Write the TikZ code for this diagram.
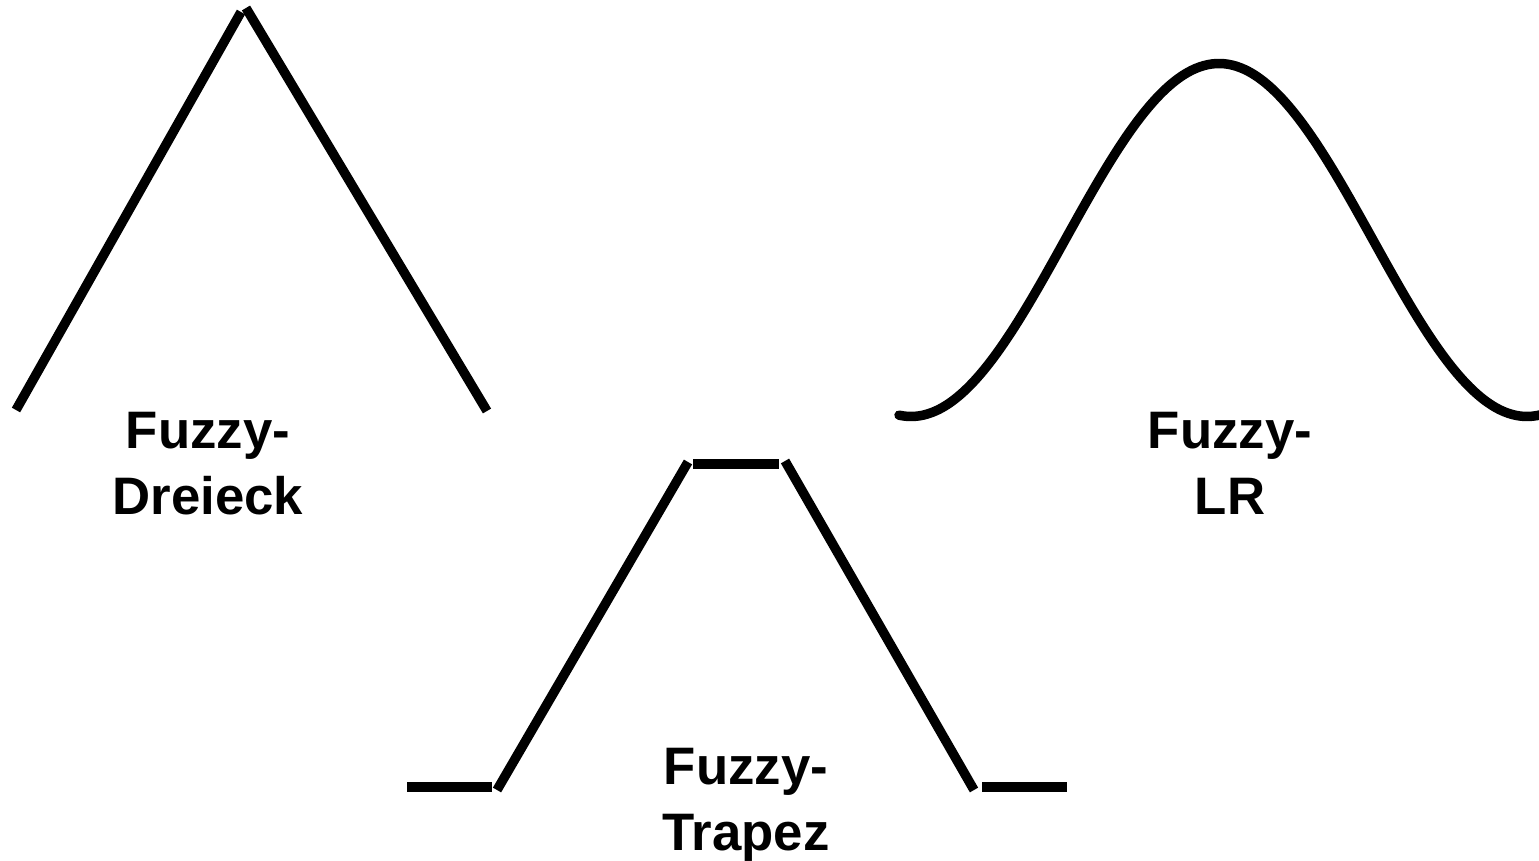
\documentclass[tikz,border=0pt]{standalone}
\usepackage{fontspec}
\setmainfont{Liberation Sans}
\tikzset{
  kurve/.style={line width=2.7pt, line cap=butt},
  beschriftung/.style={font=\bfseries\fontsize{15}{18.6}\selectfont, align=center, anchor=north, inner sep=0pt}
}
\begin{document}
\begin{tikzpicture}[x=0.01cm, y=-0.01cm]
      \useasboundingbox (0,0) rectangle (1539,861);
      % Dreieck
      \draw[kurve] (16,410) -- (241,12);
      \draw[kurve] (246,8) -- (487,411);
      % Trapez
      \draw[kurve] (407,787) -- (492,787);
      \draw[kurve] (497,790) -- (688,462);
      \draw[kurve] (693,464) -- (779,464);
      \draw[kurve] (785,461) -- (974,790);
      \draw[kurve] (982,787) -- (1067,787);
      % LR
      \draw[kurve, line cap=round]
        plot[domain=899:1545, samples=160, smooth]
        (\x, {416.5-176.5*(1+cos((\x-1219)/308*180))});
      \node[beschriftung] (dreieck) at (208,412) {Fuzzy-\\Dreieck};
      \node[beschriftung] (lr) at (1230,412) {Fuzzy-\\LR};
      \node[beschriftung] (trapez) at (746,748) {Fuzzy-\\Trapez};
    \end{tikzpicture}
\end{document}
